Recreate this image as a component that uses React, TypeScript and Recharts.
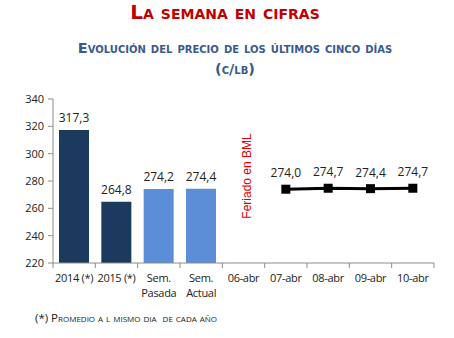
import React from "react";
import {
  ComposedChart,
  Bar,
  Line,
  XAxis,
  YAxis,
  Cell,
  LabelList,
  ReferenceLine,
} from "recharts";

const categories = [
  "2014 (*)",
  "2015 (*)",
  "Sem.\nPasada",
  "Sem.\nActual",
  "06-abr",
  "07-abr",
  "08-abr",
  "09-abr",
  "10-abr",
];
const barValues: (number | null)[] = [317.3, 264.8, 274.2, 274.4, null, null, null, null, null];
const lineValues: (number | null)[] = [null, null, null, null, null, 274.0, 274.7, 274.4, 274.7];
const barColors = ["#1C3A5E", "#1C3A5E", "#5B8ED6", "#5B8ED6"];
const yTicks = [220, 240, 260, 280, 300, 320, 340];

const data = categories.map((c, i) => ({ cat: c, bar: barValues[i], line: lineValues[i] }));

const fmt = (v: any) => (v == null ? "" : Number(v).toFixed(1).replace(".", ","));

const LBL_FONT = "'Open Sans', 'Liberation Sans', sans-serif";

const XTick = (props: any) => {
  const { x, y, payload, index } = props;
  const off = payload && payload.offset != null ? payload.offset : 21.2;
  const lines = String(payload.value).split("\n");
  return (
    <g>
      <line x1={x - off} x2={x - off} y1={y} y2={y + 5} stroke="#8c8c8c" />
      {index === categories.length - 1 && (
        <line x1={x + off} x2={x + off} y1={y} y2={y + 5} stroke="#8c8c8c" />
      )}
      {lines.map((t, i) => (
        <text
          key={i}
          x={x}
          y={y + 19 + i * 15}
          textAnchor="middle"
          fontSize={11}
          letterSpacing={-0.3}
          fontFamily={LBL_FONT}
          fill="#222"
        >
          {t}
        </text>
      ))}
    </g>
  );
};

const SquareDot = (props: any) => {
  const { cx, cy, value } = props;
  if (value == null || cx == null || cy == null) return <g />;
  return <rect x={cx - 4.5} y={cy - 4.5} width={9} height={9} fill="#000" />;
};

export default function App() {
  return (
    <div style={{ position: "absolute", left: 0, top: 0, width: 454, height: 338, background: "#fff" }}>
      <div
        style={{
          position: "absolute",
          top: -1,
          left: 0,
          width: 450,
          textAlign: "center",
          fontFamily: "'DejaVu Sans', Verdana, sans-serif",
          fontWeight: "bold",
          fontVariant: "small-caps",
          color: "#C00000",
          fontSize: 20,
          lineHeight: "26px",
        }}
      >
        La semana en cifras
      </div>
      <div
        style={{
          position: "absolute",
          top: 38,
          left: 0,
          width: 470,
          textAlign: "center",
          fontFamily: "'DejaVu Sans', Verdana, sans-serif",
          fontWeight: "bold",
          fontVariant: "small-caps",
          color: "#3A5A8C",
          fontSize: 14.5,
          lineHeight: "21px",
        }}
      >
        Evolución del precio de los últimos cinco días
        <br />
        (c/lb)
      </div>
      <div
        style={{
          position: "absolute",
          top: 310,
          left: 35,
          fontFamily: LBL_FONT,
          fontVariant: "small-caps",
          color: "#222",
          fontSize: 11.5,
          lineHeight: "16px",
          whiteSpace: "pre",
        }}
      >
        {"(*) Promedio a l mismo dia  de cada año"}
      </div>
      <div style={{ position: "absolute", left: 0, top: 0 }}>
        <ComposedChart
          width={454}
          height={338}
          data={data}
          margin={{ top: 99, right: 20, bottom: 45, left: 0 }}
        >
          <XAxis
            dataKey="cat"
            interval={0}
            tickLine={false}
            tickSize={0}
            tickMargin={0}
            axisLine={{ stroke: "#8c8c8c" }}
            tick={<XTick />}
            height={30}
          />
          <YAxis
            domain={[220, 340]}
            ticks={yTicks}
            width={53}
            tickSize={5}
            tickMargin={4}
            axisLine={{ stroke: "#8c8c8c" }}
            tickLine={{ stroke: "#8c8c8c" }}
            tick={{ fontSize: 11, fill: "#222", fontFamily: LBL_FONT }}
            allowDataOverflow
          />
          <ReferenceLine
            x="06-abr"
            stroke="none"
            label={{
              value: "Feriado en BML",
              angle: -90,
              position: "center",
              fill: "#E00000",
              fontSize: 12,
              fontFamily: "'Liberation Sans', Arial, sans-serif",
              dx: 3,
              dy: -5,
            }}
          />
          <Bar dataKey="bar" barSize={30} isAnimationActive={false}>
            {data.map((d, i) => (
              <Cell key={i} fill={barColors[i] || "#5B8ED6"} />
            ))}
            <LabelList
              dataKey="bar"
              position="top"
              offset={8}
              formatter={fmt}
              style={{ fontSize: 12, fill: "#222", fontFamily: LBL_FONT }}
            />
          </Bar>
          <Line
            dataKey="line"
            stroke="#000"
            strokeWidth={3}
            dot={<SquareDot />}
            activeDot={false}
            connectNulls={false}
            isAnimationActive={false}
          >
            <LabelList
              dataKey="line"
              position="top"
              offset={12}
              formatter={fmt}
              style={{ fontSize: 12, fill: "#222", fontFamily: LBL_FONT }}
            />
          </Line>
        </ComposedChart>
      </div>
    </div>
  );
}
